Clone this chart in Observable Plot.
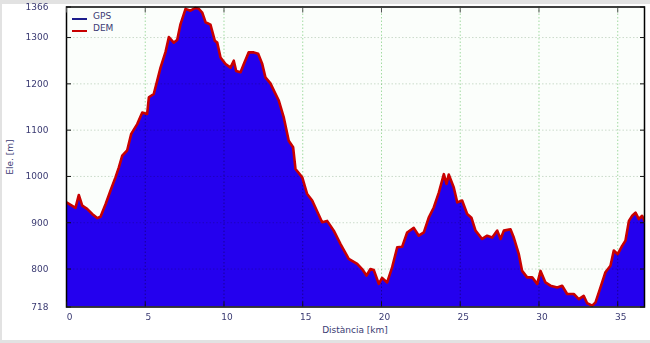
<!DOCTYPE html>
<html><head><meta charset="utf-8">
<script src="https://cdn.jsdelivr.net/npm/d3@7"></script>
<script src="https://cdn.jsdelivr.net/npm/@observablehq/plot@0.6"></script>
<style>
body{margin:0;background:#fff;}
#wrap{position:relative;width:650px;height:343px;overflow:hidden;font-family:"DejaVu Sans",sans-serif;color:#3a3a72;font-size:9px;}
#wrap svg{position:absolute;left:0;top:0;z-index:1;}
.t{position:absolute;white-space:nowrap;line-height:1;z-index:2;}
.band{position:absolute;background:#e2e2e2;z-index:0;}
.leg{position:absolute;left:72px;height:2.5px;width:15px;z-index:2;}
</style></head><body>
<div id="wrap"></div>
<script>
const distKm = [0.0,0.57,0.78,1.0,1.31,1.63,1.95,2.16,2.48,2.79,3.11,3.32,3.54,3.85,4.11,4.49,4.81,5.12,5.23,5.54,5.76,5.97,6.29,6.50,6.81,7.03,7.24,7.56,7.87,8.19,8.40,8.62,8.83,9.14,9.42,9.57,9.78,10.10,10.41,10.62,10.77,11.05,11.26,11.57,11.89,12.17,12.43,12.63,12.95,13.23,13.48,13.80,14.11,14.39,14.54,14.97,15.28,15.60,16.23,16.55,16.97,17.40,17.92,18.46,18.77,19.05,19.30,19.51,19.83,20.04,20.36,20.68,21.00,21.31,21.63,22.05,22.37,22.69,23.00,23.32,23.64,23.96,24.13,24.27,24.59,24.81,25.12,25.44,25.71,25.97,26.39,26.71,27.03,27.35,27.56,27.77,28.19,28.40,28.72,28.93,29.25,29.57,29.89,30.10,30.41,30.73,31.16,31.47,31.79,32.21,32.53,32.84,33.06,33.38,33.59,33.90,34.22,34.54,34.75,35.00,35.28,35.49,35.71,35.92,36.13,36.34,36.55,36.70];
const elevation = [944,932,960,937,930,919,910,913,940,969,998,1019,1045,1056,1092,1113,1138,1135,1171,1178,1207,1235,1269,1301,1289,1295,1329,1362,1358,1364,1362,1354,1333,1328,1293,1289,1257,1243,1235,1250,1228,1225,1243,1268,1268,1265,1243,1214,1201,1181,1164,1127,1077,1063,1016,998,962,948,901,904,883,854,822,811,800,786,800,798,768,781,771,804,847,848,879,889,872,879,911,933,965,1005,984,1004,976,944,948,919,911,883,865,872,868,883,865,883,886,868,832,796,782,782,768,796,771,764,760,764,746,746,735,742,726,721,728,760,793,807,840,832,850,861,904,915,922,908,915,904];
const xTicks = [0,5,10,15,20,25,30,35];
const yTicks = [718,800,900,1000,1100,1200,1300,1366];
const seriesNames = ["GPS","DEM"];
const seriesColors = ["#1c1c8c","#c80000"];

const data = distKm.map((k,i)=>({km:k, ele:elevation[i]}));
const gridStyle = {stroke:"#a4dca4", strokeWidth:1, strokeDasharray:"1.5,2", mixBlendMode:"multiply"};

const chart = Plot.plot({
  width:650, height:343,
  marginLeft:66, marginRight:6, marginTop:6.5, marginBottom:36.5,
  style:{fontFamily:"DejaVu Sans", fontSize:"9px", color:"#3a3a72", background:"transparent", overflow:"visible"},
  x:{domain:[0,36.7], label:null},
  y:{domain:[718,1366], label:null},
  marks:[
    Plot.frame({fill:"#fbfefb", stroke:null}),
    Plot.areaY(data,{x:"km", y1:718, y2:"ele", fill:"#2400ee", clip:true}),
    Plot.ruleX(xTicks.filter(d=>d>0), gridStyle),
    Plot.ruleY(yTicks.filter(d=>d>718 && d<1366), {...gridStyle, stroke:"#cfdccf"}),
    Plot.line(data,{x:"km", y:"ele", stroke:"#c80000", strokeWidth:2.6, strokeLinejoin:"round", clip:true}),
    Plot.frame({stroke:"#000", strokeWidth:1.5}),
    Plot.axisX({ticks:xTicks, anchor:"bottom", tickSize:-5, tickFormat:()=>"", stroke:"#111", label:null}),
    Plot.axisX({ticks:xTicks, anchor:"top", tickSize:-5, tickFormat:()=>"", stroke:"#555", label:null}),
    Plot.axisY({ticks:yTicks, anchor:"left", tickSize:-5, tickFormat:()=>"", stroke:"#111", label:null}),
    Plot.axisY({ticks:yTicks, anchor:"right", tickSize:-5, tickFormat:()=>"", stroke:"#111", label:null}),
    Plot.axisX({ticks:xTicks, anchor:"bottom", tickSize:0, tickPadding:7, dx:3, tickFormat:d=>String(d), fill:"#3a3a72", label:null}),
    Plot.axisY({ticks:yTicks, anchor:"left", tickSize:0, tickPadding:18, tickFormat:d=>String(d), fill:"#3a3a72", label:null})
  ]
});
const wrap = document.getElementById("wrap");

// page border bands (behind the chart)
[["0px","0px","650px","4px"],["0px","0px","1.5px","343px"],["0px","340px","650px","3px"]].forEach(([l,t,w,h])=>{
  const b=document.createElement("div"); b.className="band";
  Object.assign(b.style,{left:l,top:t,width:w,height:h}); wrap.appendChild(b);
});
wrap.appendChild(chart);

// axis titles
const xt=document.createElement("div"); xt.className="t"; xt.textContent="Distància [km]";
Object.assign(xt.style,{left:"355px",top:"330px",transform:"translate(-50%,-50%)"}); wrap.appendChild(xt);
const yt=document.createElement("div"); yt.className="t"; yt.textContent="Ele. [m]";
Object.assign(yt.style,{left:"10px",top:"157px",transform:"translate(-50%,-50%) rotate(-90deg)"}); wrap.appendChild(yt);

// legend
seriesNames.forEach((name,i)=>{
  const sw=document.createElement("div"); sw.className="leg";
  Object.assign(sw.style,{top:(17.5+i*12)+"px",background:seriesColors[i]}); wrap.appendChild(sw);
  const tx=document.createElement("div"); tx.className="t"; tx.textContent=name;
  Object.assign(tx.style,{left:"93px",top:(15.7+i*12)+"px",transform:"translateY(-50%)"}); wrap.appendChild(tx);
});
</script>
</body></html>
